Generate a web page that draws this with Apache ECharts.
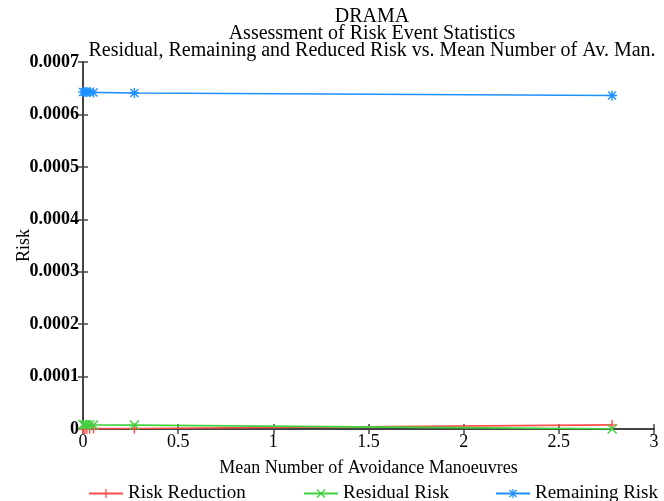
<!DOCTYPE html>
<html><head><meta charset="utf-8">
<script src="https://cdn.jsdelivr.net/npm/echarts@6/dist/echarts.min.js"></script>
<style>html,body{margin:0;padding:0;background:#fff}#c{width:664px;height:501px}</style>
</head><body><div id="c"></div>
<script>
const titleLines = ['DRAMA', 'Assessment of Risk Event Statistics', 'Residual, Remaining and Reduced Risk vs. Mean Number of Av. Man.'];
const xLabel = 'Mean Number of Avoidance Manoeuvres';
const yLabel = 'Risk';
const seriesNames = ['Risk Reduction', 'Residual Risk', 'Remaining Risk'];
const meanAvMan = [0, 0.01, 0.02, 0.035, 0.055, 0.27, 2.78];
const riskReduction = [0, 0.0000002, 0.0000004, 0.0000006, 0.0000008, 0.000001, 0.0000078];
const residualRisk = [0.0000085, 0.0000082, 0.0000082, 0.000008, 0.0000078, 0.0000074, 0.0000002];
const remainingRisk = [0.000643, 0.000643, 0.000643, 0.000643, 0.000642, 0.000641, 0.000636];
const xTicks = [0, 0.5, 1, 1.5, 2, 2.5, 3];
const yTicks = [0, 0.0001, 0.0002, 0.0003, 0.0004, 0.0005, 0.0006, 0.0007];

const FONT = '"Liberation Serif", "DejaVu Serif", serif';
const colors = ['#ff4d4d', '#3ed23e', '#1e90ff'];
const plusPath = 'path://M4.3,0h1.4v10h-1.4zM0,4.3h10v1.4h-10z';
const xPath = 'path://M0,1L1,0L10,9L9,10zM9,0L10,1L1,10L0,9z';
const starPath = 'path://M4.3,0h1.4v10h-1.4zM0,4.3h10v1.4h-10zM0.5,1.5L1.5,0.5L9.5,8.5L8.5,9.5zM8.5,0.5L9.5,1.5L1.5,9.5L0.5,8.5z';
const symbols = [plusPath, xPath, starPath];
const values = [riskReduction, residualRisk, remainingRisk];

const chart = echarts.init(document.getElementById('c'), null, {renderer: 'canvas'});
const axisLine = {show: true, lineStyle: {color: '#444', width: 2}};
const series = seriesNames.map((n, i) => ({
  name: n, type: 'line', xAxisIndex: 0, yAxisIndex: 0,
  data: meanAvMan.map((x, k) => [x, values[i][k]]),
  symbol: symbols[i], symbolSize: 10, showSymbol: true,
  lineStyle: {color: colors[i], width: 1.6},
  itemStyle: {color: colors[i]},
  animation: false
}));
const legends = seriesNames.map((n, i) => ({
  data: [n], left: [83, 298, 490][i], top: 479, itemWidth: 34, itemHeight: 11, itemGap: 8,
  textStyle: {fontFamily: FONT, fontSize: 19, color: '#000'}
}));
chart.setOption({
  animation: false,
  title: {text: titleLines.join('\n'), left: 367, top: 3, textAlign: 'center',
    textStyle: {fontFamily: FONT, fontSize: 20, fontWeight: 'normal', color: '#000', lineHeight: 17}},
  legend: legends,
  grid: {left: 83, right: 10, top: 62, bottom: 72, containLabel: false, outerBoundsMode: 'none'},
  xAxis: [{
    type: 'value', min: 0, max: 3, interval: 0.5, position: 'bottom',
    name: xLabel, nameLocation: 'middle', nameGap: 30, nameMoveOverlap: false,
    nameTextStyle: {fontFamily: FONT, fontSize: 18, color: '#000'},
    axisLine, axisTick: {show: true, inside: true, length: 5, lineStyle: {color: '#444', width: 1.5}},
    axisLabel: {fontFamily: FONT, fontSize: 18, color: '#000', margin: 4, formatter: v => xTicks.includes(v) ? String(v) : ''},
    splitLine: {show: false}
  }, {
    type: 'value', min: 0, max: 3, interval: 0.5, position: 'top',
    axisLine, axisTick: {show: true, inside: true, length: 5, lineStyle: {color: '#444', width: 1.5}},
    axisLabel: {show: false}, splitLine: {show: false}
  }],
  yAxis: [{
    type: 'value', min: 0, max: 0.0007, interval: 0.0001, position: 'left',
    name: yLabel, nameLocation: 'middle', nameGap: 50, nameRotate: 90, nameMoveOverlap: false,
    nameTextStyle: {fontFamily: FONT, fontSize: 18, color: '#000'},
    axisLine, axisTick: {show: true, inside: true, length: 5, lineStyle: {color: '#444', width: 1.5}},
    axisLabel: {fontFamily: FONT, fontSize: 18, fontWeight: 'bold', color: '#000', margin: 4,
      formatter: v => { const t = yTicks.find(y => Math.abs(y - v) < 1e-9); return t === undefined ? '' : (t === 0 ? '0' : t.toFixed(4)); }},
    splitLine: {show: false}
  }, {
    type: 'value', min: 0, max: 0.0007, interval: 0.0001, position: 'right',
    axisLine, axisTick: {show: true, inside: true, length: 5, lineStyle: {color: '#444', width: 1.5}},
    axisLabel: {show: false}, splitLine: {show: false}
  }],
  series
});
</script></body></html>
